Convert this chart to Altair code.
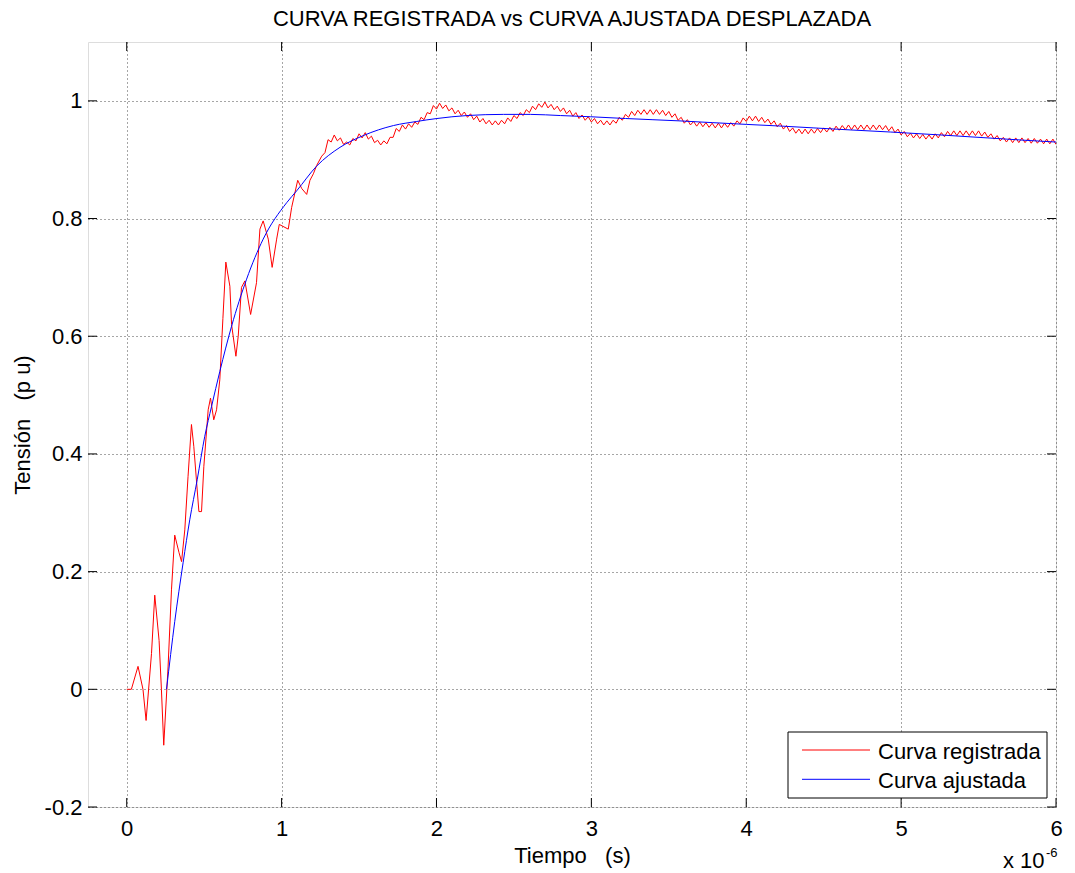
import altair as alt
import pandas as pd
import numpy as np

NB = "\u00a0"
# ---------------- texts ----------------
title_text = "CURVA REGISTRADA vs CURVA AJUSTADA DESPLAZADA"
x_title = "Tiempo" + NB * 3 + "(s)"
y_title = "Tensión" + NB * 3 + "(p u)"
legend_labels = ["Curva registrada", "Curva ajustada"]
legend_colors = ["#ff0000", "#0000ff"]
x_mult_text = "x 10"
x_mult_exp = "-6"

# ---------------- axes ----------------
x_ticks = [0, 1, 2, 3, 4, 5, 6]
y_ticks = [-0.2, 0, 0.2, 0.4, 0.6, 0.8, 1.0]
x_domain = [-0.25, 6]
y_domain = [-0.2, 1.1]

# ---------------- red curve (recorded), time in microseconds ----------------
red_t_early = [0.000, 0.030, 0.073, 0.105, 0.125, 0.160, 0.181, 0.209, 0.224, 0.239,
               0.267, 0.289, 0.310, 0.338, 0.354, 0.375, 0.396, 0.418, 0.433, 0.466,
               0.483, 0.498, 0.526, 0.541, 0.562, 0.580, 0.601, 0.621, 0.640, 0.666,
               0.677, 0.705, 0.720, 0.741, 0.763, 0.800, 0.838, 0.860, 0.881, 0.914,
               0.939, 0.968, 0.985, 1.043, 1.065, 1.104, 1.130, 1.162, 1.183, 1.205,
               1.226, 1.259, 1.280]
red_v_early = [0.000, 0.000, 0.039, 0.000, -0.053, 0.061, 0.160, 0.083, 0.000, -0.095,
               0.038, 0.169, 0.262, 0.232, 0.217, 0.271, 0.362, 0.450, 0.413, 0.302,
               0.302, 0.379, 0.475, 0.495, 0.458, 0.475, 0.526, 0.630, 0.726, 0.685,
               0.620, 0.566, 0.600, 0.683, 0.694, 0.637, 0.691, 0.782, 0.796, 0.765,
               0.717, 0.765, 0.790, 0.782, 0.819, 0.865, 0.851, 0.841, 0.865, 0.876,
               0.890, 0.906, 0.912]

red_ripple_t0 = 1.30
red_ripple_dt = 0.02
red_v_ripple = [
    0.934, 0.930, 0.942, 0.932, 0.937, 0.926, 0.930, 0.925, 0.936, 0.932,
    0.944, 0.937, 0.946, 0.935, 0.940, 0.929, 0.933, 0.925, 0.932, 0.927,
    0.938, 0.938, 0.953, 0.948, 0.959, 0.952, 0.961, 0.955, 0.964, 0.960,
    0.972, 0.968, 0.980, 0.978, 0.992, 0.986, 0.996, 0.987, 0.993, 0.983,
    0.988, 0.978, 0.984, 0.975, 0.981, 0.972, 0.978, 0.968, 0.974, 0.964,
    0.970, 0.961, 0.967, 0.959, 0.966, 0.959, 0.967, 0.961, 0.971, 0.965,
    0.975, 0.970, 0.980, 0.975, 0.985, 0.980, 0.991, 0.985, 0.995, 0.989,
    0.998, 0.988, 0.994, 0.985, 0.991, 0.982, 0.988, 0.978, 0.984, 0.974,
    0.980, 0.970, 0.976, 0.967, 0.973, 0.964, 0.970, 0.961, 0.967, 0.959,
    0.966, 0.959, 0.967, 0.962, 0.972, 0.967, 0.977, 0.972, 0.982, 0.975,
    0.984, 0.977, 0.985, 0.977, 0.985, 0.977, 0.985, 0.977, 0.984, 0.975,
    0.982, 0.972, 0.978, 0.967, 0.972, 0.962, 0.968, 0.959, 0.965, 0.957,
    0.964, 0.956, 0.963, 0.955, 0.962, 0.954, 0.962, 0.954, 0.962, 0.955,
    0.963, 0.957, 0.966, 0.961, 0.971, 0.965, 0.974, 0.966, 0.974, 0.965,
    0.972, 0.963, 0.969, 0.960, 0.966, 0.956, 0.962, 0.952, 0.958, 0.948,
    0.954, 0.945, 0.952, 0.944, 0.952, 0.944, 0.952, 0.945, 0.953, 0.946,
    0.954, 0.947, 0.955, 0.948, 0.957, 0.950, 0.958, 0.951, 0.959, 0.951,
    0.959, 0.951, 0.959, 0.951, 0.959, 0.951, 0.959, 0.951, 0.959, 0.951,
    0.958, 0.949, 0.956, 0.946, 0.952, 0.942, 0.948, 0.939, 0.945, 0.937,
    0.944, 0.936, 0.943, 0.935, 0.942, 0.935, 0.944, 0.937, 0.946, 0.939,
    0.948, 0.941, 0.949, 0.941, 0.949, 0.941, 0.949, 0.941, 0.949, 0.941,
    0.949, 0.940, 0.947, 0.938, 0.944, 0.935, 0.941, 0.932, 0.938, 0.930,
    0.937, 0.929, 0.937, 0.929, 0.937, 0.929, 0.936, 0.928, 0.936, 0.928,
    0.935, 0.927, 0.935, 0.927, 0.935, 0.926,
]

# ---------------- blue curve (fitted) ----------------
blue_t = [0.257, 0.310, 0.364, 0.407, 0.455, 0.504, 0.548, 0.601, 0.677, 0.774,
          0.881, 1.033, 1.097, 1.226, 1.377, 1.528, 1.722, 1.873, 2.003, 2.196,
          2.433, 2.606, 2.800, 2.994, 3.220, 3.392, 3.565, 3.780, 4.000, 4.233,
          4.437, 4.642, 4.933, 5.256, 5.558, 5.800, 6.000]
blue_v = [0.000, 0.115, 0.215, 0.288, 0.356, 0.430, 0.481, 0.540, 0.617, 0.697,
          0.765, 0.827, 0.847, 0.889, 0.921, 0.941, 0.958, 0.965, 0.970, 0.975,
          0.977, 0.977, 0.975, 0.973, 0.970, 0.968, 0.966, 0.963, 0.960, 0.957,
          0.954, 0.951, 0.947, 0.942, 0.937, 0.933, 0.930]

# ---------------- tables ----------------
red_t_ripple = list(np.round(red_ripple_t0 + red_ripple_dt * np.arange(len(red_v_ripple)), 3))
red_df = pd.DataFrame({"t": red_t_early + red_t_ripple, "v": red_v_early + red_v_ripple})
red_df["o"] = np.arange(len(red_df))
blue_df = pd.DataFrame({"t": blue_t, "v": blue_v})
blue_df["o"] = np.arange(len(blue_df))
xt_df = pd.DataFrame({"t": x_ticks})
yt_df = pd.DataFrame({"v": y_ticks})

FONT = "Liberation Sans"
W, H = 968, 765

xs = alt.Scale(domain=x_domain, nice=False, zero=False)
ys = alt.Scale(domain=y_domain, nice=False, zero=False)
xa = alt.Axis(values=x_ticks, format="d", grid=True, gridDash=[1, 3], gridColor="#000000",
              gridOpacity=0.7, ticks=False, domain=False, labelFont=FONT, labelFontSize=22,
              labelColor="black", labelPadding=11, labelFlush=False, labelOverlap=False,
              title=x_title, titleFont=FONT, titleFontSize=22, titleFontWeight="normal",
              titleColor="black", titlePadding=6)
ya = alt.Axis(values=y_ticks, grid=True, gridDash=[1, 3], gridColor="#000000",
              gridOpacity=0.7, ticks=False, domain=False, labelFont=FONT, labelFontSize=22,
              labelColor="black", labelPadding=6, labelFlush=False, labelOverlap=False,
              labelExpr="datum.value < 0 ? '-' + format(-datum.value, '~g') : format(datum.value, '~g')",
              title=y_title, titleFont=FONT, titleFontSize=22, titleFontWeight="normal",
              titleColor="black", titlePadding=10)

X = lambda f: alt.X(f"{f}:Q", scale=xs, axis=xa)
Y = lambda f: alt.Y(f"{f}:Q", scale=ys, axis=ya)

red_line = alt.Chart(red_df).mark_line(color=legend_colors[0], strokeWidth=1, clip=True).encode(
    x=X("t"), y=Y("v"), order="o:Q")
blue_line = alt.Chart(blue_df).mark_line(color=legend_colors[1], strokeWidth=1, clip=True,
                                         interpolate="monotone").encode(
    x=X("t"), y=Y("v"), order="o:Q")

tick_len = 9
ticks_bottom = alt.Chart(xt_df).mark_rule(color="black", strokeWidth=1).encode(
    x=X("t"), y=alt.value(H), y2=alt.value(H - tick_len))
ticks_top = alt.Chart(xt_df).mark_rule(color="black", strokeWidth=1).encode(
    x=X("t"), y=alt.value(0), y2=alt.value(tick_len))
ticks_left = alt.Chart(yt_df).mark_rule(color="black", strokeWidth=1).encode(
    y=Y("v"), x=alt.value(0), x2=alt.value(tick_len))
ticks_right = alt.Chart(yt_df).mark_rule(color="black", strokeWidth=1).encode(
    y=Y("v"), x=alt.value(W), x2=alt.value(W - tick_len))

# ---------------- legend (manual, MATLAB-like box) ----------------
leg_df = pd.DataFrame({"label": legend_labels})
leg_box = alt.Chart(leg_df.head(1)).mark_rect(fill="white", stroke="black", strokeWidth=1).encode(
    x=alt.value(700), x2=alt.value(959), y=alt.value(690), y2=alt.value(756))
leg_layers = []
for i, (lab, col) in enumerate(zip(legend_labels, legend_colors)):
    yy = 708 + 29.3 * i
    one = pd.DataFrame({"label": [lab]})
    leg_layers.append(alt.Chart(one).mark_rule(color=col, strokeWidth=1).encode(
        x=alt.value(714), x2=alt.value(782), y=alt.value(yy)))
    leg_layers.append(alt.Chart(one).mark_text(align="left", baseline="middle", font=FONT,
                                               fontSize=22, color="black").encode(
        x=alt.value(790), y=alt.value(yy + 2), text="label:N"))

mult_df = pd.DataFrame({"a": [x_mult_text], "b": [x_mult_exp]})
mult1 = alt.Chart(mult_df).mark_text(align="left", baseline="alphabetic", font=FONT,
                                     fontSize=22, color="black").encode(
    x=alt.value(915), y=alt.value(826), text="a:N")
mult2 = alt.Chart(mult_df).mark_text(align="left", baseline="alphabetic", font=FONT,
                                     fontSize=13, color="black").encode(
    x=alt.value(958), y=alt.value(815), text="b:N")

chart = alt.layer(
    red_line, blue_line, ticks_bottom, ticks_top, ticks_left, ticks_right,
    leg_box, *leg_layers, mult1, mult2
).properties(
    width=W, height=H,
    title=alt.TitleParams(title_text, font=FONT, fontSize=22, fontWeight="normal",
                          color="black", anchor="middle", offset=11),
    padding={"left": 80, "top": 34, "right": 11, "bottom": 64},
    autosize=alt.AutoSizeParams(type="none"),
    background="white",
).configure_view(stroke="black", strokeWidth=1).configure(font=FONT)

chart.save("out.html", embed_options={"renderer": "svg", "actions": False})
